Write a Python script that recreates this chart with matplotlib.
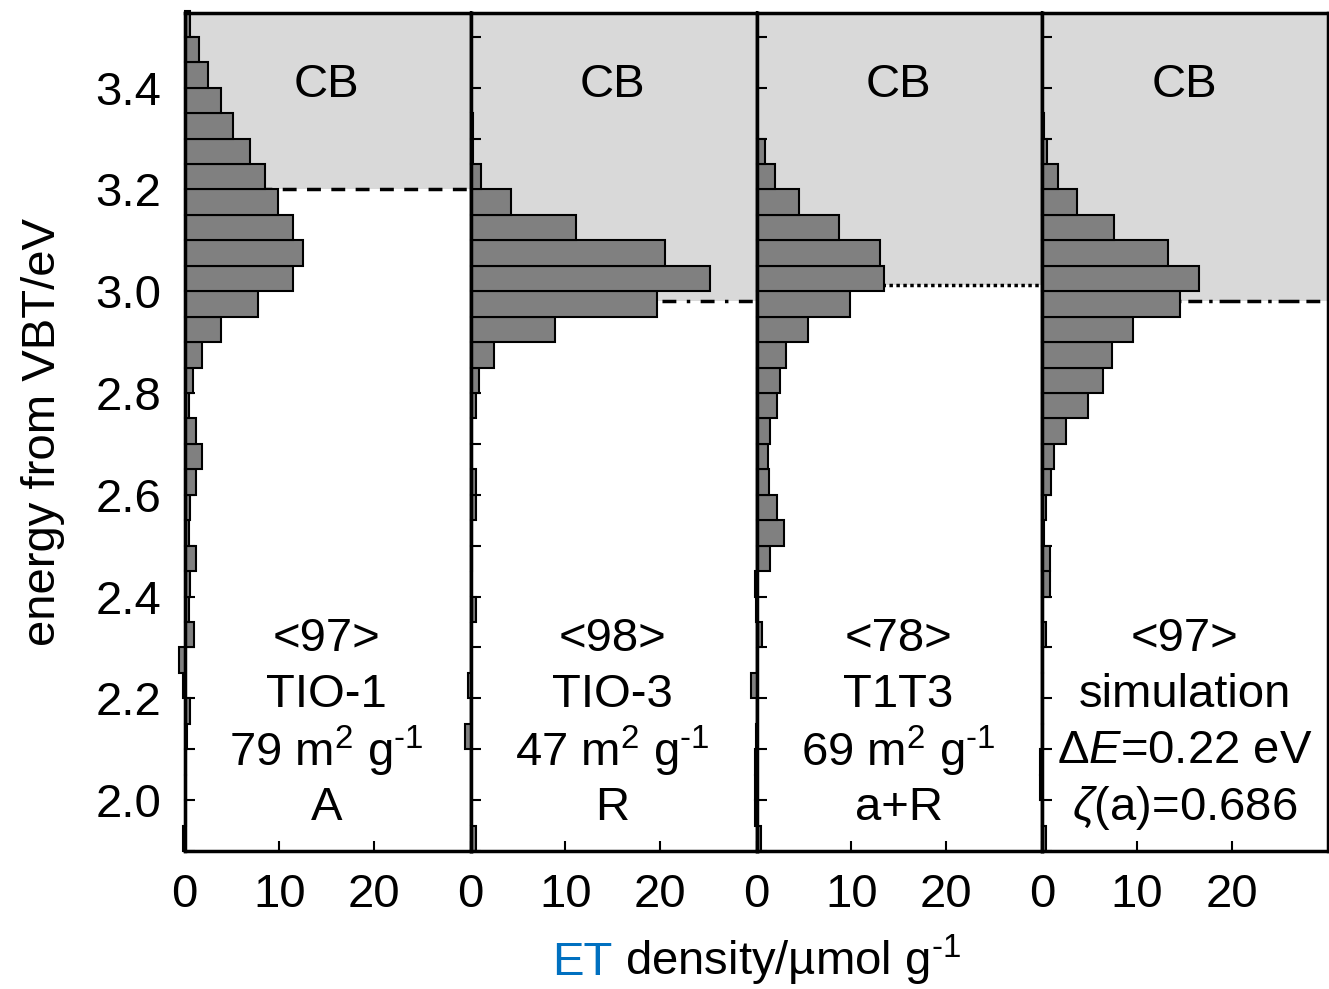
import matplotlib
matplotlib.use("Agg")
import matplotlib.pyplot as plt
import numpy as np

plt.rcParams['font.family'] = ['Liberation Sans', 'DejaVu Sans']
plt.rcParams['mathtext.fontset'] = 'custom'
plt.rcParams['mathtext.rm'] = 'Liberation Sans'
plt.rcParams['mathtext.it'] = 'Liberation Sans:italic'

# bin lower edges, 0.05 eV bins from 1.90 to 3.50 (top bin 3.50-3.55)
edges = np.round(np.arange(1.90, 3.501, 0.05), 2)

# ET density per bin, listed from 1.90 upward
tio1 = [-0.2, 0.1, 0.1, 0.1, 0.2, 0.6, -0.2, -0.6, 0.95, 0.4, 0.6, 1.2, 0.4, 0.6,
        1.2, 1.8, 1.2, 0.5, 0.9, 1.8, 3.8, 7.7, 11.4, 12.5, 11.4, 9.9, 8.5, 6.9,
        5.1, 3.8, 2.5, 1.5, 0.6]
tio3 = [0.6, 0.0, 0.0, 0.0, -0.6, 0.0, -0.3, 0.0, 0.0, 0.6, 0.0, 0.1, 0.1, 0.6,
        0.6, 0.1, 0.1, 0.6, 0.9, 2.5, 8.9, 19.7, 25.3, 20.5, 11.1, 4.3, 1.1, 0.3,
        0.3, 0.0, 0.0, 0.0, 0.0]
t1t3 = [0.5, -0.2, -0.2, -0.2, -0.1, 0.0, -0.6, 0.0, 0.6, -0.1, -0.2, 1.4, 2.9, 2.2,
        1.3, 1.2, 1.4, 2.2, 2.5, 3.1, 5.4, 9.9, 13.5, 13.0, 8.7, 4.5, 2.0, 0.9,
        0.0, 0.0, 0.0, 0.0, 0.0]
sim = [0.4, 0.1, -0.3, -0.3, 0.1, 0.1, 0.1, 0.1, 0.4, 0.1, 0.8, 0.8, 0.2, 0.4,
       0.9, 1.2, 2.5, 4.8, 6.4, 7.3, 9.6, 14.5, 16.5, 13.3, 7.6, 3.6, 1.6, 0.5,
       0.2, 0.0, 0.0, 0.0, 0.0]

series = [tio1, tio3, t1t3, sim]
cb_edge = [3.20, 2.98, 3.013, 2.98]
cb_style = [(0, (4, 3)), (0, (4, 3, 1, 3)), (0, (1, 1)), (0, (6, 2, 4, 2, 1, 2))]
sup = "$^{\\text{-}1}$"
labels = [["<97>", "TIO-1", "79 m$^2$ g" + sup, "A"],
          ["<98>", "TIO-3", "47 m$^2$ g" + sup, "R"],
          ["<78>", "T1T3", "69 m$^2$ g" + sup, "a+R"],
          ["<97>", "simulation", "Δ$\\mathit{E}$=0.22 eV", "$\\zeta$(a)=0.686"]]
label_y = [2.317, 2.206, 2.096, 1.984]

fs = 34
fig, axes = plt.subplots(1, 4, figsize=(13.29, 9.89), dpi=100, sharey=True)
fig.subplots_adjust(left=0.139, right=0.9995, top=0.987, bottom=0.1395, wspace=0)

for i, ax in enumerate(axes):
    ax.axhspan(cb_edge[i], 3.6, color='#d9d9d9', lw=0, zorder=0)
    ax.axhline(cb_edge[i], color='black', lw=2.5, linestyle=cb_style[i], zorder=1)
    ax.barh(edges + 0.025, series[i], height=0.05, color='#808080',
            edgecolor='black', lw=1.5, zorder=2, clip_on=False)
    ax.set_xlim(0, 30.2)
    ax.set_ylim(1.90, 3.547)
    ax.set_xticks([0, 10, 20])
    ax.set_yticks(np.arange(2.0, 3.41, 0.2))
    ax.set_yticks(np.arange(1.9, 3.51, 0.1), minor=True)
    ax.tick_params(axis='both', which='both', direction='in', labelsize=fs,
                   width=1.5, length=7)
    ax.tick_params(axis='x', pad=16)
    ax.tick_params(axis='y', which='both', right=False, pad=17)
    for sp in ax.spines.values():
        sp.set_linewidth(2.5)
        sp.set_zorder(5)
    ax.text(15, 3.405, "CB", ha='center', va='center', fontsize=fs)
    for txt, yy in zip(labels[i], label_y):
        ax.text(15, yy, txt, ha='center', va='center', fontsize=fs)

axes[0].yaxis.set_major_formatter(matplotlib.ticker.FormatStrFormatter('%.1f'))
axes[0].set_ylabel("energy from VBT/eV", fontsize=fs, labelpad=22)

fig.text(0.4605, 0.014, "ET", color='#0070c0', fontsize=fs, ha='right', va='baseline')
fig.text(0.4605, 0.014, " density/µmol g" + sup, fontsize=fs, ha='left', va='baseline')

fig.savefig("out.png", dpi=100)
